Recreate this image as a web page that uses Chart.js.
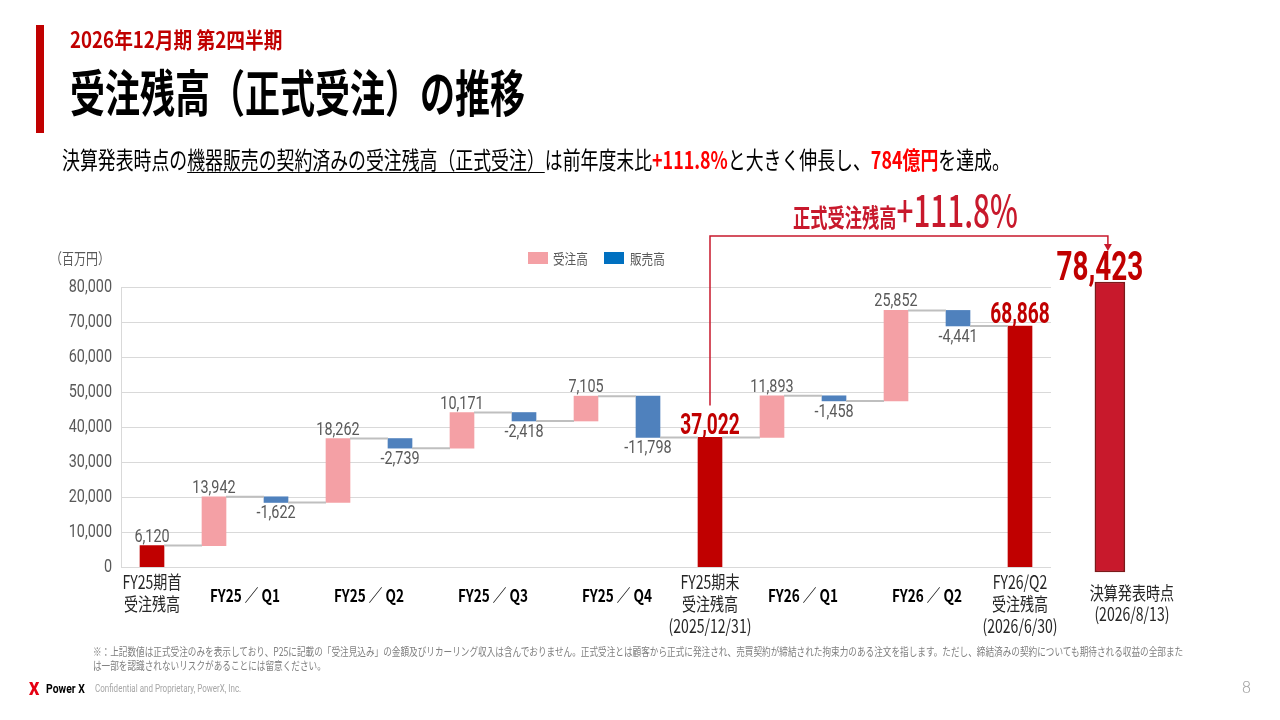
<!DOCTYPE html>
<html lang="ja">
<head>
<meta charset="utf-8">
<script src="https://cdn.jsdelivr.net/npm/chart.js@4.4.1/dist/chart.umd.min.js"></script>
<style>
  body { margin: 0; width: 1280px; height: 720px; position: relative; overflow: hidden; background: #fff;
         font-family: 'Noto Sans CJK JP', sans-serif; }
  #chart { position: absolute; left: 0; top: 0; }
  .t { position: absolute; white-space: nowrap; line-height: 1; transform-origin: 0 0; }
  .red { color: #FF0000; font-weight: 700; }
  .u { text-decoration: underline; text-decoration-thickness: 1px; text-underline-offset: 3px; }
</style>
</head>
<body>
<canvas id="chart" width="1280" height="720"></canvas>

<div style="position:absolute;left:36px;top:25px;width:8px;height:108px;background:#C00000"></div>
<div class="t" style="left:70px;top:27px;font-size:22px;font-weight:700;color:#C00000;transform:scaleX(.85)">2026年12月期 第2四半期</div>
<div class="t" style="left:70px;top:65px;font-size:50px;font-weight:700;color:#000;transform:scaleX(.7)">受注残高（正式受注）の推移</div>
<div class="t" style="left:62px;top:147px;font-size:24px;color:#000;transform:scaleX(.745)">決算発表時点の<span class="u">機器販売の契約済みの受注残高（正式受注）</span>は前年度末比<span class="red">+111.8%</span>と大きく伸長し、<span class="red">784億円</span>を達成。</div>

<div class="t" style="left:793px;top:187px;color:#C8192C;transform:scaleX(.69)"><span style="font-size:25px;font-weight:700">正式受注残高</span><span style="font-size:43px;font-weight:500">+111.8%</span></div>

<div class="t" style="left:50px;top:250px;font-size:15px;color:#595959;transform:scaleX(.8)">（百万円）</div>
<div style="position:absolute;left:528px;top:252px;width:20px;height:12px;background:#F4A0A5"></div>
<div class="t" style="left:553px;top:251px;font-size:14px;color:#595959;transform:scaleX(.83)">受注高</div>
<div style="position:absolute;left:604px;top:252px;width:20px;height:12px;background:#0070C0"></div>
<div class="t" style="left:630px;top:251px;font-size:14px;color:#595959;transform:scaleX(.83)">販売高</div>

<div class="t" style="left:93px;top:644px;font-size:11.5px;line-height:14px;color:#7F7F7F;transform:scaleX(.75)">※：上記数値は正式受注のみを表示しており、P25に記載の「受注見込み」の金額及びリカーリング収入は含んでおりません。正式受注とは顧客から正式に発注され、売買契約が締結された拘束力のある注文を指します。ただし、締結済みの契約についても期待される収益の全部また<br>は一部を認識されないリスクがあることには留意ください。</div>
<div class="t" style="left:29px;top:679px;font-size:19px;font-weight:900;color:#E60012;font-family:Roboto;transform:scaleX(.85)">X</div>
<div class="t" style="left:46px;top:682px;font-size:13px;font-weight:700;color:#000;font-family:Roboto;transform:scaleX(.8)">Power X</div>
<div class="t" style="left:95px;top:684px;font-size:10px;color:#A6A6A6;font-family:Roboto;transform:scaleX(.8)">Confidential and Proprietary, PowerX, Inc.</div>
<div class="t" style="left:1242px;top:680px;font-size:16px;font-weight:300;color:#A6A6A6;font-family:Roboto">8</div>

<script>
// waterfall data (百万円)
const categories = ['FY25期首受注残高', 'FY25 Q1 受注高', 'FY25 Q1 販売高', 'FY25 Q2 受注高', 'FY25 Q2 販売高',
  'FY25 Q3 受注高', 'FY25 Q3 販売高', 'FY25 Q4 受注高', 'FY25 Q4 販売高', 'FY25期末受注残高',
  'FY26 Q1 受注高', 'FY26 Q1 販売高', 'FY26 Q2 受注高', 'FY26 Q2 販売高', 'FY26/Q2受注残高'];
const kinds = ['total', 'order', 'sales', 'order', 'sales', 'order', 'sales', 'order', 'sales', 'total',
  'order', 'sales', 'order', 'sales', 'total'];
const values = [6120, 13942, -1622, 18262, -2739, 10171, -2418, 7105, -11798, 37022,
  11893, -1458, 25852, -4441, 68868];
const totalLabels = [['FY25期首', '受注残高'], ['FY25期末', '受注残高', '(2025/12/31)'], ['FY26/Q2', '受注残高', '(2026/6/30)']];
const quarterLabels = ['FY25 ／ Q1', 'FY25 ／ Q2', 'FY25 ／ Q3', 'FY25 ／ Q4', 'FY26 ／ Q1', 'FY26 ／ Q2'];
const announcedLabel = ['決算発表時点', '(2026/8/13)'];
const announcedValue = 78423;
const yTicks = [0, 10000, 20000, 30000, 40000, 50000, 60000, 70000, 80000];

// the separate bar sits a bit further right than the regular category spacing,
// and on the slide it is drawn on its own slightly taller scale
const ANNOUNCED_X = values.length + 1.45;
const ANNOUNCED_AXIS = { min: 1350, max: 77070 };
const BAR_W = 24;

// floating ranges + running level after each bar
let run = 0;
const levels = [];
const ranges = values.map((v, i) => {
  let r;
  if (kinds[i] === 'total') { r = [0, v]; run = v; }
  else { r = [Math.min(run, run + v), Math.max(run, run + v)]; run += v; }
  levels.push(run);
  return r;
});

function pick(kind) {
  return ranges.map((r, i) => kinds[i] === kind ? { x: i + 1, y: r } : null).filter(Boolean);
}

function txt(ctx, s, x, y, font, color, sx, align, base) {
  ctx.save();
  ctx.translate(x, y);
  ctx.scale(sx, 1);
  ctx.font = font;
  ctx.fillStyle = color;
  ctx.textAlign = align || 'center';
  ctx.textBaseline = base || 'alphabetic';
  ctx.fillText(s, 0, 0);
  ctx.restore();
}

const fmt = v => v.toLocaleString('en-US');

const deco = {
  id: 'deco',
  beforeDatasetsDraw(chart) {
    const { ctx, chartArea: a, scales: { x, y } } = chart;
    const right = x.getPixelForValue(values.length + 0.5);
    ctx.save();
    ctx.strokeStyle = '#D9D9D9';
    ctx.lineWidth = 1;
    y.ticks.forEach(t => {
      const py = Math.round(y.getPixelForValue(t.value)) + 0.5;
      ctx.beginPath(); ctx.moveTo(a.left, py); ctx.lineTo(right, py); ctx.stroke();
    });
    ctx.restore();
  },
  afterDatasetsDraw(chart) {
    const { ctx, chartArea: a, scales: { x, y, y2 } } = chart;
    const num = 'Roboto, sans-serif';
    const jp = "'Noto Sans CJK JP', sans-serif";

    // connectors
    ctx.save();
    ctx.strokeStyle = '#BFBFBF';
    ctx.lineWidth = 2;
    for (let i = 0; i < values.length - 1; i++) {
      const py = y.getPixelForValue(levels[i]);
      ctx.beginPath();
      ctx.moveTo(x.getPixelForValue(i + 1) + BAR_W / 2, py);
      ctx.lineTo(x.getPixelForValue(i + 2) - BAR_W / 2, py);
      ctx.stroke();
    }
    ctx.restore();

    // value labels (opening balance stays grey, later balances in red)
    values.forEach((v, i) => {
      const px = x.getPixelForValue(i + 1);
      if (kinds[i] === 'total' && i > 0) {
        txt(ctx, fmt(v), px, y.getPixelForValue(ranges[i][1]) - 3, 'bold 29px ' + num, '#C00000', 0.66);
      } else if (v > 0) {
        txt(ctx, fmt(v), px, y.getPixelForValue(ranges[i][1]) - 4, '18px ' + num, '#595959', 0.8);
      } else {
        txt(ctx, fmt(v), px, y.getPixelForValue(ranges[i][0]) + 16, '18px ' + num, '#595959', 0.8);
      }
    });
    const ax = x.getPixelForValue(ANNOUNCED_X);
    const atop = y2.getPixelForValue(announcedValue);
    txt(ctx, fmt(announcedValue), ax - 10, atop - 2, 'bold 41px ' + num, '#C00000', 0.68);

    // y tick labels
    y.ticks.forEach(t => {
      txt(ctx, fmt(t.value), a.left - 9, y.getPixelForValue(t.value), '18px ' + num, '#595959', 0.8, 'right', 'middle');
    });

    // x labels: balances
    let k = 0;
    kinds.forEach((kd, i) => {
      if (kd !== 'total') return;
      const px = x.getPixelForValue(i + 1);
      totalLabels[k++].forEach((line, j) => {
        txt(ctx, line, px, a.bottom + 15 + j * 22, '18px ' + jp, '#262626', 0.78, 'center', 'middle');
      });
    });
    // x labels: quarters, centred between order/sales pair
    let q = 0;
    kinds.forEach((kd, i) => {
      if (kd !== 'order') return;
      const px = (x.getPixelForValue(i + 1) + x.getPixelForValue(i + 2)) / 2;
      txt(ctx, quarterLabels[q++], px, a.bottom + 29, 'bold 17px ' + jp, '#000', 0.8, 'center', 'middle');
    });
    announcedLabel.forEach((line, j) => {
      txt(ctx, line, ax + 22, a.bottom + 26 + j * 21, '18px ' + jp, '#262626', 0.78, 'center', 'middle');
    });

    // growth bracket
    const endIdx = kinds.indexOf('total', 1);
    const bx = x.getPixelForValue(endIdx + 1);
    const by = y.getPixelForValue(values[endIdx]) - 32;
    const top = a.top - 51;
    const tipX = ax - 2, tipY = atop - 31;
    ctx.save();
    ctx.strokeStyle = '#C8192C';
    ctx.fillStyle = '#C8192C';
    ctx.lineWidth = 1.5;
    ctx.beginPath();
    ctx.moveTo(bx, by); ctx.lineTo(bx, top); ctx.lineTo(tipX, top); ctx.lineTo(tipX, tipY - 6);
    ctx.stroke();
    ctx.beginPath();
    ctx.moveTo(tipX - 4, tipY - 7); ctx.lineTo(tipX + 4, tipY - 7); ctx.lineTo(tipX, tipY);
    ctx.closePath(); ctx.fill();
    ctx.restore();
  }
};

new Chart(document.getElementById('chart'), {
  type: 'bar',
  data: {
    datasets: [
      { label: '受注残高', data: pick('total'), backgroundColor: '#C00000', barThickness: BAR_W },
      { label: '受注高', data: pick('order'), backgroundColor: '#F4A0A5', barThickness: BAR_W },
      { label: '販売高', data: pick('sales'), backgroundColor: '#4F81BD', barThickness: BAR_W },
      { label: '決算発表時点', data: [{ x: ANNOUNCED_X, y: [0, announcedValue] }], yAxisID: 'y2', clip: false,
        backgroundColor: '#C8192C', borderColor: '#7B1A1A', borderWidth: 1.5, borderSkipped: false, barThickness: 30 }
    ]
  },
  options: {
    responsive: false,
    animation: false,
    events: [],
    grouped: false,
    layout: { padding: { top: 287, right: 136, bottom: 153, left: 0 } },
    plugins: { legend: { display: false }, tooltip: { enabled: false } },
    scales: {
      x: {
        type: 'linear', min: 0.5, max: values.length + 2, offset: false,
        grid: { display: false, offset: false }, border: { display: false },
        ticks: { display: false },
        afterFit: s => { s.height = 0; }
      },
      y: {
        min: yTicks[0], max: yTicks[yTicks.length - 1],
        ticks: { display: false, stepSize: yTicks[1] - yTicks[0] },
        grid: { display: false },
        border: { display: true, color: '#D9D9D9', width: 1 },
        afterFit: s => { s.width = 121; }
      },
      y2: {
        display: false, position: 'right',
        min: ANNOUNCED_AXIS.min, max: ANNOUNCED_AXIS.max
      }
    }
  },
  plugins: [deco]
});
</script>
</body>
</html>
